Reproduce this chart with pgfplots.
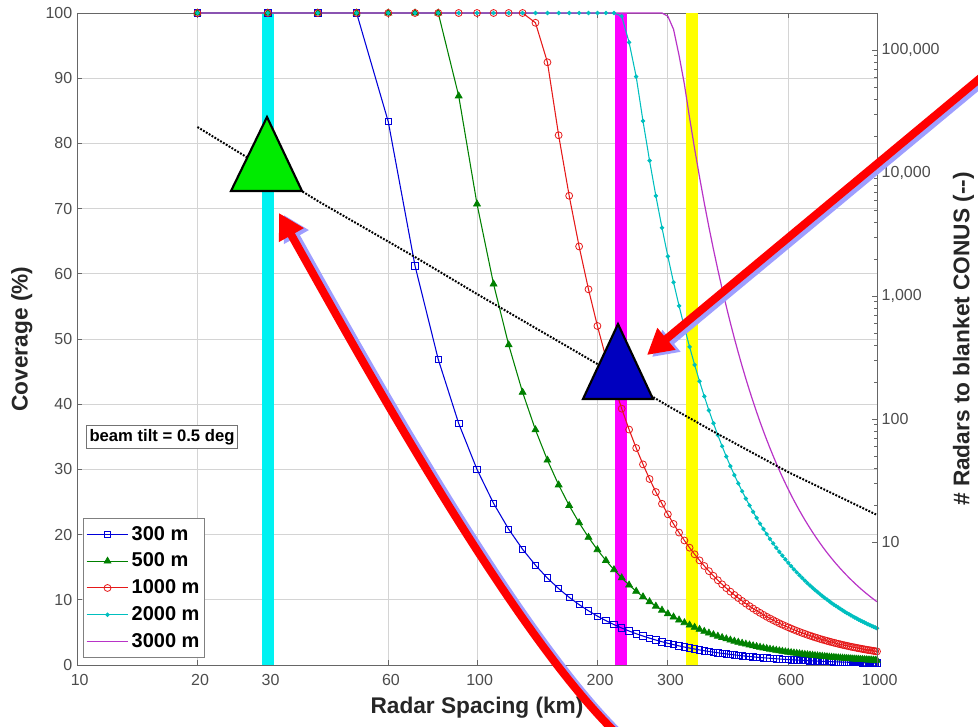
\documentclass[border=0pt]{standalone}
\usepackage{fontspec}
\setmainfont{Liberation Sans}
\usepackage{pgfplots}
\pgfplotsset{compat=1.18}
\usepackage{pgfplotstable}
\usetikzlibrary{arrows.meta}

\definecolor{c300}{rgb}{0,0,0.85}
\definecolor{c500}{rgb}{0,0.5,0}
\definecolor{c1000}{rgb}{0.9,0.1,0.1}
\definecolor{c2000}{rgb}{0,0.75,0.75}
\definecolor{c3000}{rgb}{0.72,0.2,0.78}
\definecolor{barcyan}{rgb}{0,0.95,0.95}
\definecolor{barmag}{rgb}{1,0,1}
\definecolor{baryel}{rgb}{1,1,0}
\definecolor{trigreen}{rgb}{0,0.92,0}
\definecolor{triblue}{rgb}{0,0,0.75}
\definecolor{shadowblue}{rgb}{0.62,0.62,1}

\pgfplotstableread{
s c3 c5 c10 c20 c30
20 100 100 100 100 100
30 100 100 100 100 100
40 100 100 100 100 100
50 100 100 100 100 100
60 83.33 100 100 100 100
70 61.22 100 100 100 100
80 46.88 100 100 100 100
90 37.04 87.28 100 100 100
100 30.00 70.70 100 100 100
110 24.79 58.43 100 100 100
120 20.83 49.10 100 100 100
130 17.75 41.83 100 100 100
140 15.31 36.07 98.5 100 100
150 13.33 31.42 92.44 100 100
160 11.72 27.62 81.25 100 100
170 10.38 24.46 71.97 100 100
180 9.26 21.82 64.20 100 100
190 8.31 19.58 57.62 100 100
200 7.50 17.68 52.00 100 100
210 6.80 16.03 47.17 100 100
220 6.20 14.61 42.98 100 100
230 5.67 13.37 39.32 99.5 100
240 5.21 12.27 36.11 95.5 100
250 4.80 11.31 33.28 90.24 100
260 4.44 10.46 30.77 83.43 100
270 4.12 9.70 28.53 77.36 100
280 3.83 9.02 26.53 71.94 100
290 3.57 8.41 24.73 67.07 100
300 3.33 7.86 23.11 62.67 99.5
310 3.12 7.36 21.64 58.69 97.5
320 2.93 6.90 20.31 55.08 93.5
330 2.75 6.49 19.10 51.79 89.07
340 2.60 6.12 17.99 48.79 83.91
350 2.45 5.77 16.98 46.04 79.18
360 2.31 5.46 16.05 43.52 74.85
370 2.19 5.16 15.19 41.20 70.85
380 2.08 4.90 14.40 39.06 67.17
390 1.97 4.65 13.68 37.08 63.77
400 1.88 4.42 13.00 35.25 60.63
410 1.78 4.21 12.37 33.55 57.70
420 1.70 4.01 11.79 31.97 54.99
430 1.62 3.82 11.25 30.50 52.46
440 1.55 3.65 10.74 29.13 50.10
450 1.48 3.49 10.27 27.85 47.90
460 1.42 3.34 9.83 26.65 45.84
470 1.36 3.20 9.42 25.53 43.91
480 1.30 3.07 9.03 24.48 42.10
490 1.25 2.94 8.66 23.49 40.40
500 1.20 2.83 8.32 22.56 38.80
510 1.15 2.72 8.00 21.68 37.29
520 1.11 2.61 7.69 20.86 35.87
530 1.07 2.52 7.40 20.08 34.53
540 1.03 2.42 7.13 19.34 33.27
550 0.99 2.34 6.88 18.64 32.07
560 0.96 2.25 6.63 17.98 30.93
570 0.92 2.18 6.40 17.36 29.86
580 0.89 2.10 6.18 16.77 28.83
590 0.86 2.03 5.98 16.20 27.87
600 0.83 1.96 5.78 15.67 26.94
610 0.81 1.90 5.59 15.16 26.07
620 0.78 1.84 5.41 14.67 25.23
630 0.76 1.78 5.24 14.21 24.44
640 0.73 1.73 5.08 13.77 23.68
650 0.71 1.67 4.92 13.35 22.96
660 0.69 1.62 4.78 12.95 22.27
670 0.67 1.57 4.63 12.56 21.61
680 0.65 1.53 4.50 12.20 20.98
690 0.63 1.49 4.37 11.85 20.37
700 0.61 1.44 4.24 11.51 19.80
710 0.60 1.40 4.13 11.19 19.24
720 0.58 1.36 4.01 10.88 18.71
730 0.56 1.33 3.90 10.58 18.20
740 0.55 1.29 3.80 10.30 17.71
750 0.53 1.26 3.70 10.03 17.24
760 0.52 1.22 3.60 9.76 16.79
770 0.51 1.19 3.51 9.51 16.36
780 0.49 1.16 3.42 9.27 15.94
790 0.48 1.13 3.33 9.04 15.54
800 0.47 1.10 3.25 8.81 15.16
810 0.46 1.08 3.17 8.60 14.78
820 0.45 1.05 3.09 8.39 14.43
830 0.44 1.03 3.02 8.19 14.08
840 0.43 1.00 2.95 7.99 13.75
850 0.42 0.98 2.88 7.81 13.43
860 0.41 0.96 2.81 7.63 13.12
870 0.40 0.93 2.75 7.45 12.82
880 0.39 0.91 2.69 7.28 12.53
890 0.38 0.89 2.63 7.12 12.25
900 0.37 0.87 2.57 6.96 11.98
910 0.36 0.85 2.51 6.81 11.71
920 0.35 0.84 2.46 6.66 11.46
930 0.35 0.82 2.40 6.52 11.22
940 0.34 0.80 2.35 6.38 10.98
950 0.33 0.78 2.30 6.25 10.75
960 0.33 0.77 2.26 6.12 10.53
970 0.32 0.75 2.21 5.99 10.31
980 0.31 0.74 2.17 5.87 10.10
990 0.31 0.72 2.12 5.75 9.90
1000 0.30 0.71 2.08 5.64 9.70
}\cov

\pgfplotstableread{
s n
20 23660
30 10570
40 5920
70 2075
100 1038
200 280
300 128
400 75.5
600 37
1000 16.6
}\radars

\begin{document}
\begin{tikzpicture}
\begin{axis}[
  at={(0pt,0pt)}, anchor=south west,
  scale only axis, width=600pt, height=489pt,
  xmode=log, xmin=10, xmax=1000, ymin=0, ymax=100,
  xtick={10,20,30,60,100,200,300,600,1000},
  xticklabels={10,20,30,60,100,200,300,600,1000},
  minor xtick={},
  ytick={0,10,...,100},
  ytick pos=left,
  tick align=inside,
  major tick length=4pt,
  grid=major,
  major grid style={draw=black!17, line width=0.6pt},
  axis line style={draw=black!60, line width=0.7pt},
  tick style={draw=black!60, line width=0.6pt},
  tick label style={font=\fontsize{12}{14}\selectfont, text=black!70},
  xticklabel style={yshift=-3.5pt, xshift=2pt},
  /pgf/number format/assume math mode=true,
  xlabel={Radar Spacing (km)}, ylabel={Coverage (\%)},
  label style={font=\fontsize{17}{20}\selectfont\bfseries, text=black!85},
  xlabel style={at={(axis description cs:0.5,-0.066)}, anchor=center},
  ylabel style={at={(axis description cs:-0.069,0.5)}, anchor=center},
  legend style={at={(axis description cs:0.0075,0.0107)}, anchor=south west,
    draw=black!50, fill=white, line width=0.6pt, row sep=0pt, inner sep=2pt,
    font=\fontsize{15}{18}\selectfont\bfseries,
    nodes={inner sep=2pt, text height=12.3pt, text depth=3.8pt}},
  legend cell align=left,
  legend image code/.code={\draw[mark repeat=2,mark phase=2] plot coordinates {(0cm,0cm) (0.55cm,0cm) (1.1cm,0cm)};},
]
\draw[barcyan, line width=9pt] (axis cs:30,0) -- (axis cs:30,100);
\draw[barmag, line width=9pt] (axis cs:229,0) -- (axis cs:229,100);
\draw[baryel, line width=9pt] (axis cs:345,0) -- (axis cs:345,100);
\addplot[c300, line width=0.8pt, mark=square, mark size=2.4pt, mark options={solid, line width=0.6pt}] table[x=s, y=c3] {\cov};
\addlegendentry{300 m}
\addplot[c500, line width=0.8pt, mark=triangle*, mark size=3pt, mark options={solid, line width=0.5pt}] table[x=s, y=c5] {\cov};
\addlegendentry{500 m}
\addplot[c1000, line width=0.8pt, mark=o, mark size=2.6pt, mark options={solid, line width=0.6pt}] table[x=s, y=c10] {\cov};
\addlegendentry{1000 m}
\addplot[c2000, line width=0.8pt, mark=*, mark size=1.2pt, mark options={solid}] table[x=s, y=c20] {\cov};
\addlegendentry{2000 m}
\addplot[c3000, line width=0.9pt, no markers] table[x=s, y=c30] {\cov};
\addlegendentry{3000 m}
\end{axis}

\begin{axis}[
  at={(0pt,0pt)}, anchor=south west,
  scale only axis, width=600pt, height=489pt,
  xmode=log, ymode=log, xmin=10, xmax=1000, ymin=1, ymax=2e5,
  axis x line=none, axis y line*=right,
  ytick={10,100,1000,10000,100000},
  yticklabels={10,100,{1,000},{10,000},{100,000}},
  tick align=inside,
  major tick length=4pt, minor tick length=2.5pt,
  axis line style={draw=black!60, line width=0.7pt},
  tick style={draw=black!60, line width=0.6pt},
  tick label style={font=\fontsize{12}{14}\selectfont, text=black!70},
  ylabel={\# Radars to blanket CONUS (-{}-)},
  ylabel style={at={(axis description cs:1.108,0.5)}, anchor=center,
    font=\fontsize{17}{20}\selectfont\bfseries, text=black!85},
]
\addplot[black, line width=1.5pt, dash pattern=on 1.4pt off 1.1pt] table[x=s, y=n] {\radars};
\end{axis}

\begin{scope}[x=0.75pt, y=-0.75pt, shift={(-77,-665)}]
\node[draw=black!55, fill=white, line width=0.6pt, inner sep=2.5pt,
  font=\fontsize{12.5}{14}\selectfont\bfseries] at (162,437) {beam tilt = 0.5 deg};
\draw[fill=trigreen, line width=1.6pt, line join=miter] (267,117) -- (302,191) -- (231,191) -- cycle;
\draw[fill=triblue, line width=1.6pt, line join=miter] (618,324) -- (653,399) -- (583,399) -- cycle;
% arrow shadows
\begin{scope}[shift={(5,2)}]
\draw[shadowblue, line width=6pt, -{Triangle[length=19pt,width=20pt]}]
  (615,732) .. controls (510.5,629.5) and (362.5,362) .. (279,213);
\draw[shadowblue, line width=6pt, -{Triangle[length=19pt,width=20pt]}] (990,70) -- (647,355);
\end{scope}
\draw[red, line width=6pt, -{Triangle[length=19pt,width=20pt]}]
  (615,732) .. controls (510.5,629.5) and (362.5,362) .. (279,213);
\draw[red, line width=6pt, -{Triangle[length=19pt,width=20pt]}] (990,70) -- (647,355);
\pgfresetboundingbox
\path (0,0) rectangle (978,726);
\end{scope}
\end{tikzpicture}
\end{document}
